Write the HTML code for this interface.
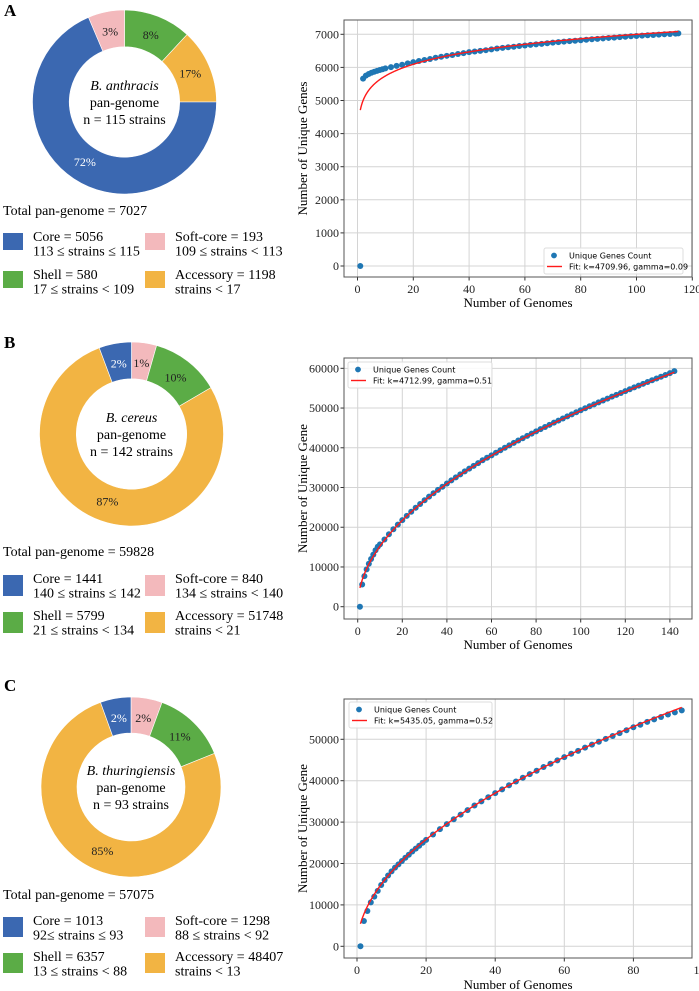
<!DOCTYPE html>
<html><head><meta charset="utf-8"><style>
body{margin:0;background:#fff}
svg{display:block;font-family:"Liberation Serif",serif}
.lg{font-family:"DejaVu Sans",sans-serif;font-size:8px}
</style></head><body>
<svg id="fig" width="699" height="991" viewBox="0 0 699 991" xmlns="http://www.w3.org/2000/svg"></svg>
<script>
// ---------- Data ----------
const categories = ['Core','Soft-core','Shell','Accessory'];
const colorsByCat = {'Core':'#3b68b1','Soft-core':'#f3b9bc','Shell':'#5bac46','Accessory':'#f2b443'};
const countsA = {'Core':5056,'Soft-core':193,'Shell':580,'Accessory':1198};
const countsB = {'Core':1441,'Soft-core':840,'Shell':5799,'Accessory':51748};
const countsC = {'Core':1013,'Soft-core':1298,'Shell':6357,'Accessory':48407};
// wedge shares (percent) as drawn in the figure
const sharesA = {'Core':68.6,'Soft-core':6.4,'Shell':11.9,'Accessory':13.1};
const sharesB = {'Core':5.7,'Soft-core':4.4,'Shell':12.2,'Accessory':77.7};
const sharesC = {'Core':5.5,'Soft-core':5.6,'Shell':13.3,'Accessory':75.6};
// printed percent labels
const pctA = {'Core':'72%','Soft-core':'3%','Shell':'8%','Accessory':'17%'};
const pctB = {'Core':'2%','Soft-core':'1%','Shell':'10%','Accessory':'87%'};
const pctC = {'Core':'2%','Soft-core':'2%','Shell':'11%','Accessory':'85%'};
const orderA = ['Shell','Accessory','Core','Soft-core'];
const orderB = ['Soft-core','Shell','Accessory','Core'];
const orderC = ['Soft-core','Shell','Accessory','Core'];
const totalsA = 7027, totalsB = 59828, totalsC = 57075;
const rangesA = ['113 ≤ strains ≤ 115','109  ≤ strains < 113','17 ≤ strains < 109','strains < 17'];
const rangesB = ['140 ≤ strains ≤ 142','134  ≤ strains < 140','21 ≤ strains < 134','strains < 21'];
const rangesC = ['92≤ strains ≤ 93','88  ≤ strains < 92','13 ≤ strains < 88','strains < 13'];

const genomesA = [1,2,3,4,5,6,7,8,9,10,12,14,16,18,20,22,24,26,28,30,32,34,36,38,40,42,44,46,48,50,52,54,56,58,60,62,64,66,68,70,72,74,76,78,80,82,84,86,88,90,92,94,96,98,100,102,104,106,108,110,112,114,115];
const uniqueA = [0,5660,5750,5800,5840,5870,5895,5920,5945,5970,6010,6045,6080,6120,6160,6195,6225,6255,6290,6320,6350,6375,6405,6430,6460,6480,6500,6520,6545,6570,6590,6610,6625,6645,6660,6680,6695,6710,6730,6750,6765,6780,6795,6805,6820,6835,6850,6860,6875,6890,6900,6915,6925,6940,6950,6960,6970,6980,6990,7000,7010,7020,7027];
const genomesB = [1,2,3,4,5,6,7,8,9,10,12,14,16,18,20,22,24,26,28,30,32,34,36,38,40,42,44,46,48,50,52,54,56,58,60,62,64,66,68,70,72,74,76,78,80,82,84,86,88,90,92,94,96,98,100,102,104,106,108,110,112,114,116,118,120,122,124,126,128,130,132,134,136,138,140,142];
const uniqueB = [0,5600,7700,9400,10800,12000,13100,14200,15100,15700,16900,18250,19500,20650,21800,22850,23900,24900,25850,26800,27700,28550,29400,30200,31000,31800,32550,33300,34050,34750,35450,36150,36850,37480,38100,38750,39380,40000,40610,41220,41820,42410,43000,43570,44130,44690,45240,45780,46320,46850,47380,47900,48420,48930,49440,49940,50440,50930,51420,51900,52380,52860,53330,53800,54270,54740,55200,55650,56100,56560,57000,57450,57890,58330,58780,59300];
const genomesC = [1,2,3,4,5,6,7,8,9,10,11,12,13,14,15,16,17,18,19,20,22,24,26,28,30,32,34,36,38,40,42,44,46,48,50,52,54,56,58,60,62,64,66,68,70,72,74,76,78,80,82,84,86,88,90,92,94];
const uniqueC = [0,6120,8530,10600,12000,13400,14800,16000,17100,18100,19000,19800,20600,21400,22100,22900,23600,24300,25000,25700,27000,28300,29500,30700,31800,32900,34000,35000,36000,37000,37900,38900,39800,40700,41600,42400,43300,44100,44900,45700,46500,47200,48000,48700,49400,50100,50800,51500,52200,52900,53500,54200,54800,55400,56000,56500,57000];
const fitKA = 4709.96, fitGA = 0.086, fitLabelA = 'Fit: k=4709.96, gamma=0.09';
const fitKB = 4712.99, fitGB = 0.51, fitLabelB = 'Fit: k=4712.99, gamma=0.51';
const fitKC = 5435.05, fitGC = 0.52, fitLabelC = 'Fit: k=5435.05, gamma=0.52';
const yTicksA = [0,1000,2000,3000,4000,5000,6000,7000];
const yTicksB = [0,10000,20000,30000,40000,50000,60000];
const yTicksC = [0,10000,20000,30000,40000,50000];
const xTicksA = [0,20,40,60,80,100,120];
const xTicksB = [0,20,40,60,80,100,120,140];
const xTicksC = [0,20,40,60,80,100];

// ---------- helpers ----------
const NS='http://www.w3.org/2000/svg';
const svg=document.getElementById('fig');
function mk(tag,attrs,parent,text){
  const e=document.createElementNS(NS,tag);
  for(const k in attrs) e.setAttribute(k,attrs[k]);
  if(text!==undefined) e.textContent=text;
  (parent||svg).appendChild(e); return e;
}
function pol(cx,cy,r,deg){const a=(deg-90)*Math.PI/180;return [cx+r*Math.cos(a),cy+r*Math.sin(a)];}

function donut(o){
  const g=mk('g',{});
  
  
  const L=mk('text',{x:4,y:o.letterY,'font-size':17,'font-weight':'bold'},svg,o.letter);
  
  
  const tot=o.total; let ang=0; const R=o.R, r=R*0.6;
  o.order.forEach(c=>{
    const sweep=o.shares[c]/100*360;
    const a0=ang,a1=ang+sweep;
    const [x0,y0]=pol(o.cx,o.cy,R,a0),[x1,y1]=pol(o.cx,o.cy,R,a1);
    const [x2,y2]=pol(o.cx,o.cy,r,a1),[x3,y3]=pol(o.cx,o.cy,r,a0);
    const lg=sweep>180?1:0;
    const p=mk('path',{d:`M${x0} ${y0}A${R} ${R} 0 ${lg} 1 ${x1} ${y1}L${x2} ${y2}A${r} ${r} 0 ${lg} 0 ${x3} ${y3}Z`,fill:colorsByCat[c],stroke:'#fff','stroke-width':0.6},g);
    
    
    const [lx,ly]=pol(o.cx,o.cy,R*0.78,(a0+a1)/2);
    const t=mk('text',{x:lx,y:ly+4,'text-anchor':'middle','font-size':12,fill:c==='Core'?'#fff':'#222'},g,o.pct[c]);
    
    
    ang=a1;
  });
  const ct=mk('text',{x:o.cx,y:o.cy-12,'text-anchor':'middle','font-size':14},g);
  
  
  mk('tspan',{x:o.cx,'font-style':'italic'},ct,o.species);
  mk('tspan',{x:o.cx,dy:17},ct,'pan-genome');
  mk('tspan',{x:o.cx,dy:17},ct,'n = '+o.n+' strains');
  const tt=mk('text',{x:3,y:o.totalY,'font-size':14},svg,'Total pan-genome = '+tot);
  
  
  categories.forEach((c,i)=>{
    const col=i===0||i===2?0:1, row=i<2?0:1;
    const sx=col?145:3, sy=o.legY+row*o.rowH;
    const s=mk('rect',{x:sx,y:sy,width:20,height:o.sqH,fill:colorsByCat[c]});
    
    
    const t=mk('text',{x:sx+30,y:sy+8,'font-size':14});
    
    
    mk('tspan',{x:sx+30},t,c+' = '+o.counts[c]);
    mk('tspan',{x:sx+30,dy:14.5},t,o.ranges[i]);
  });
}

function curve(o){
  const g=mk('g',{});
  
  
  const X=v=>o.x0+v*o.xs, Y=v=>o.y0-v*o.ys;
  const B=o.box;
  const cid='clip'+o.name;
  const cp=mk('clipPath',{id:cid},g); mk('rect',{x:B[0],y:B[1],width:B[2]-B[0],height:B[3]-B[1]},cp);
  o.xt.forEach(v=>{
    const x=X(v);
    if(x<=B[2]+0.5){mk('line',{x1:x,x2:x,y1:B[1],y2:B[3],stroke:'#d4d4d4','stroke-width':1},g);
      mk('line',{x1:x,x2:x,y1:B[3],y2:B[3]+3.5,stroke:'#333'},g);}
    const t=mk('text',{x:x,y:B[3]+16,'text-anchor':'middle','font-size':12,fill:'#222'},g,v);
    
    
  });
  o.yt.forEach(v=>{
    const y=Y(v);
    mk('line',{x1:B[0],x2:B[2],y1:y,y2:y,stroke:'#d4d4d4','stroke-width':1},g);
    mk('line',{x1:B[0]-3.5,x2:B[0],y1:y,y2:y,stroke:'#333'},g);
    const t=mk('text',{x:B[0]-5,y:y+4,'text-anchor':'end','font-size':12,fill:'#222'},g,v);
    
    
  });
  const pts=mk('g',{'clip-path':`url(#${cid})`},g);
  
  
  o.gx.forEach((n,i)=>{
    const c=mk('circle',{cx:X(n),cy:Y(o.gy[i]),r:3,fill:'#1f77b4'},pts);
    
    
  });
  let d='';
  const nmax=o.gx[o.gx.length-1];
  for(let n=1;n<=nmax;n+=0.25){d+=(d?'L':'M')+X(n).toFixed(2)+' '+Y(o.k*Math.pow(n,o.gam)).toFixed(2);}
  const fl=mk('path',{d:d,fill:'none',stroke:'#ff1a1a','stroke-width':1.4},g);
  
  
  const f=mk('rect',{x:B[0],y:B[1],width:B[2]-B[0],height:B[3]-B[1],fill:'none',stroke:'#555','stroke-width':1},g);
  
  
  const xl=mk('text',{x:(B[0]+B[2])/2,y:o.xlY,'text-anchor':'middle','font-size':13},g,'Number of Genomes');
  
  
  const yc=(B[1]+B[3])/2;
  const yl=mk('text',{x:307,y:yc,'text-anchor':'middle','font-size':13,transform:`rotate(-90 307 ${yc})`},g,o.ylab);
  
  
  const L=o.leg;
  const lg=mk('g',{},g);
  
  
  mk('rect',{x:L[0],y:L[1],width:L[2],height:26,fill:'#fff','fill-opacity':0.85,stroke:'#ddd',rx:2},lg);
  mk('circle',{cx:L[0]+10,cy:L[1]+7.5,r:2.9,fill:'#1f77b4'},lg);
  mk('line',{x1:L[0]+3,x2:L[0]+18,y1:L[1]+18.5,y2:L[1]+18.5,stroke:'#ff1a1a','stroke-width':1.4},lg);
  const e1=mk('text',{x:L[0]+25,y:L[1]+10.5,class:'lg'},lg,'Unique Genes Count');
  
  
  const e2=mk('text',{x:L[0]+25,y:L[1]+21.5,class:'lg'},lg,o.fitLabel);
  
  
}

donut({name:'anthracis',letter:'A',letterY:16,cx:124.5,cy:102,R:92,counts:countsA,shares:sharesA,pct:pctA,order:orderA,total:totalsA,species:'B. anthracis',n:115,totalY:215,legY:233,rowH:38,sqH:17,ranges:rangesA});
donut({name:'cereus',letter:'B',letterY:348,cx:131.5,cy:434,R:92,counts:countsB,shares:sharesB,pct:pctB,order:orderB,total:totalsB,species:'B. cereus',n:142,totalY:556,legY:575,rowH:37,sqH:21,ranges:rangesB});
donut({name:'thuringiensis',letter:'C',letterY:691,cx:131,cy:787,R:90,counts:countsC,shares:sharesC,pct:pctC,order:orderC,total:totalsC,species:'B. thuringiensis',n:93,totalY:899,legY:917,rowH:36,sqH:20,ranges:rangesC});

curve({name:'anthracis',box:[344,20,692,277],x0:357.5,xs:2.79,y0:266,ys:0.0331,xt:xTicksA,yt:yTicksA,gx:genomesA,gy:uniqueA,k:fitKA,gam:fitGA,fitLabel:fitLabelA,leg:[544,248,139],xlY:307,ylab:'Number of Unique Genes'});
curve({name:'cereus',box:[344,358,692,619],x0:357.7,xs:2.23,y0:606.7,ys:0.003973,xt:xTicksB,yt:yTicksB,gx:genomesB,gy:uniqueB,k:fitKB,gam:fitGB,fitLabel:fitLabelB,leg:[348,362,144],xlY:649,ylab:'Number of Unique Gene'});
curve({name:'thuringiensis',box:[344,699,692,958],x0:357,xs:3.455,y0:946.3,ys:0.00414,xt:xTicksC,yt:yTicksC,gx:genomesC,gy:uniqueC,k:fitKC,gam:fitGC,fitLabel:fitLabelC,leg:[349,702,143],xlY:989,ylab:'Number of Unique Gene'});
</script>
</body></html>
